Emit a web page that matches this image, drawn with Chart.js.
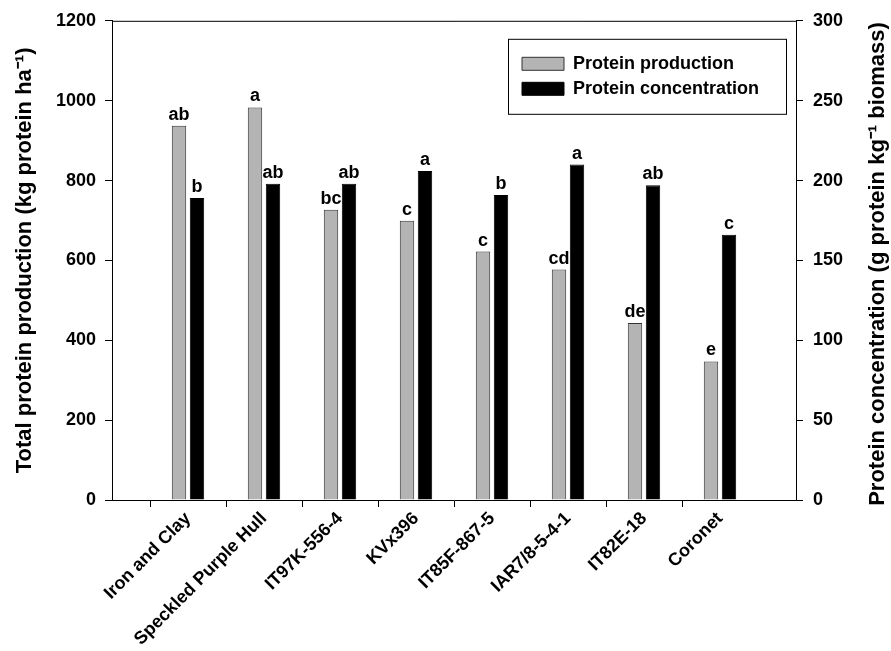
<!DOCTYPE html>
<html>
<head>
<meta charset="utf-8">
<script src="https://cdn.jsdelivr.net/npm/chart.js@4/dist/chart.umd.min.js"></script>
<style>
  html, body { margin: 0; padding: 0; background: #fff; }
  #wrap { width: 891px; height: 651px; position: relative; }
</style>
</head>
<body>
<div id="wrap"><canvas id="chart"></canvas></div>
<script>
var cultivars = ['Iron and Clay', 'Speckled Purple Hull', 'IT97K-556-4', 'KVx396',
    'IT85F-867-5', 'IAR7/8-5-4-1', 'IT82E-18', 'Coronet'];
var production = [937, 983, 727, 699, 622, 577, 443, 347];
var concentration = [189, 198, 198, 206, 191, 210, 197, 166];
var productionLetters = ['ab', 'a', 'bc', 'c', 'c', 'cd', 'de', 'e'];
var concentrationLetters = ['b', 'ab', 'ab', 'a', 'b', 'a', 'ab', 'c'];
var leftTicks = [0, 200, 400, 600, 800, 1000, 1200];
var rightTicks = [0, 50, 100, 150, 200, 250, 300];

// empty slot at both ends so categories sit at 1..8 of 0..9
var labels = [''].concat(cultivars, ['']);
function pad(arr) { return [null].concat(arr, [null]); }

var FONT = "'Liberation Sans', Arial, sans-serif";
var letters = [productionLetters, concentrationLetters];

var extras = {
    id: 'extras',
    afterLayout: function (chart) {
        var ca = chart.chartArea;
        var lg = chart.legend;
        lg.left = ca.right - 281;
        lg.top = ca.top + 27;
    },
    afterDatasetsDraw: function (chart) {
        var ctx = chart.ctx;
        ctx.save();
        ctx.font = 'bold 18px ' + FONT;
        ctx.fillStyle = '#000';
        ctx.textAlign = 'center';
        ctx.textBaseline = 'alphabetic';
        chart.data.datasets.forEach(function (ds, d) {
            var meta = chart.getDatasetMeta(d);
            meta.data.forEach(function (bar, i) {
                var txt = letters[d][i - 1];
                if (ds.data[i] == null || !txt) return;
                ctx.fillText(txt, bar.x, bar.y - 6);
            });
        });
        ctx.restore();
    },
    afterDraw: function (chart) {
        var ctx = chart.ctx;
        var ca = chart.chartArea;
        ctx.save();
        ctx.strokeStyle = '#000';
        ctx.lineWidth = 1;
        // top frame line
        ctx.beginPath();
        ctx.moveTo(ca.left, ca.top + 0.5);
        ctx.lineTo(ca.right, ca.top + 0.5);
        ctx.stroke();
        // legend frame
        ctx.strokeRect(ca.right - 288 + 0.5, ca.top + 18 + 0.5, 278, 75);
        // right axis title, reading bottom to top
        ctx.fillStyle = '#000';
        ctx.font = 'bold 22px ' + FONT;
        ctx.textAlign = 'center';
        ctx.textBaseline = 'middle';
        ctx.translate(chart.scales.y1.right - 13, 264);
        ctx.rotate(-Math.PI / 2);
        ctx.fillText('Protein concentration (g protein kg\u207B\u00B9 biomass)', 0, 0);
        ctx.restore();
    }
};

function plain(v) { return String(v); }

new Chart(document.getElementById('chart'), {
    type: 'bar',
    data: {
        labels: labels,
        datasets: [
            {
                label: 'Protein production',
                data: pad(production),
                yAxisID: 'y',
                backgroundColor: '#b4b4b4',
                borderColor: '#333333',
                borderWidth: 1,
                categoryPercentage: 0.474,
                barPercentage: 0.8
            },
            {
                label: 'Protein concentration',
                data: pad(concentration),
                yAxisID: 'y1',
                backgroundColor: '#000000',
                borderColor: '#000000',
                borderWidth: 1,
                categoryPercentage: 0.474,
                barPercentage: 0.8
            }
        ]
    },
    options: {
        responsive: true,
        maintainAspectRatio: false,
        animation: false,
        layout: { padding: { top: 20, left: 0, right: 0, bottom: 0 } },
        plugins: {
            legend: {
                position: 'chartArea',
                align: 'start',
                labels: {
                    boxWidth: 42,
                    boxHeight: 13,
                    padding: 7,
                    color: '#000',
                    font: { family: FONT, size: 18, weight: 'bold' }
                }
            },
            tooltip: { enabled: false }
        },
        scales: {
            x: {
                type: 'category',
                offset: false,
                afterFit: function (s) { s.height = 151; },
                border: { display: true, color: '#000', width: 1 },
                grid: {
                    drawOnChartArea: false,
                    drawTicks: true,
                    tickLength: 7,
                    color: function (c) {
                        return (c.index === 0 || c.index === labels.length - 1) ? 'rgba(0,0,0,0)' : '#000';
                    }
                },
                ticks: {
                    autoSkip: false,
                    minRotation: 45,
                    maxRotation: 45,
                    padding: 1,
                    color: '#000',
                    font: { family: FONT, size: 18, weight: 'bold' }
                }
            },
            y: {
                position: 'left',
                min: 0,
                max: 1200,
                afterFit: function (s) { s.width = 112; },
                afterBuildTicks: function (s) { s.ticks = leftTicks.map(function (v) { return { value: v }; }); },
                border: { display: true, color: '#000', width: 1 },
                grid: { drawOnChartArea: false, drawTicks: true, tickLength: 7, color: '#000' },
                ticks: {
                    padding: 9,
                    color: '#000',
                    callback: plain,
                    font: { family: FONT, size: 18, weight: 'bold' }
                },
                title: {
                    display: true,
                    text: 'Total protein production (kg protein ha\u207B\u00B9)',
                    color: '#000',
                    padding: { top: 12, bottom: 0 },
                    font: { family: FONT, size: 22, weight: 'bold' }
                }
            },
            y1: {
                position: 'right',
                min: 0,
                max: 300,
                afterFit: function (s) { s.width = 95; },
                afterBuildTicks: function (s) { s.ticks = rightTicks.map(function (v) { return { value: v }; }); },
                border: { display: true, color: '#000', width: 1 },
                grid: { drawOnChartArea: false, drawTicks: true, tickLength: 7, color: '#000' },
                ticks: {
                    padding: 10,
                    color: '#000',
                    callback: plain,
                    font: { family: FONT, size: 18, weight: 'bold' }
                }
            }
        }
    },
    plugins: [extras]
});
</script>
</body>
</html>
